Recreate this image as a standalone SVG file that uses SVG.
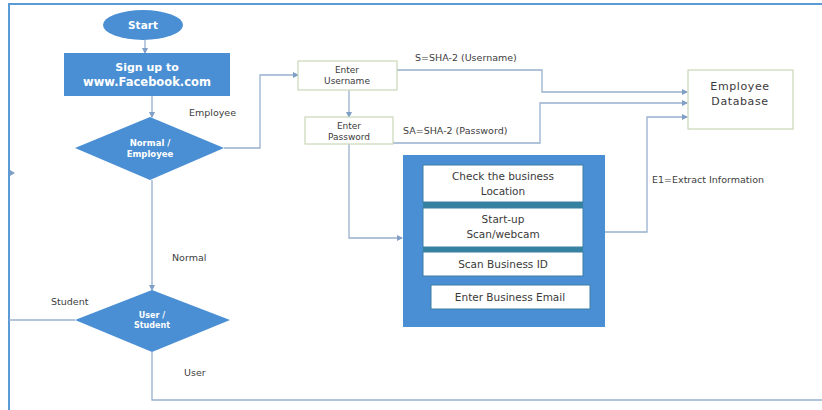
<svg xmlns="http://www.w3.org/2000/svg" width="822" height="410" viewBox="0 0 822 410">
<style>
.conn{fill:none;stroke:#98b0d0;stroke-width:1.3}
.lbl{font-family:"DejaVu Sans",sans-serif;font-size:9.5px;fill:#404040}
.wt{font-family:"DejaVu Sans",sans-serif;fill:#ffffff;font-weight:bold;text-anchor:middle}
.bt{font-family:"DejaVu Sans",sans-serif;fill:#3a3a3a;text-anchor:middle}
.shape{fill:#4a8fd3}
.obox{fill:#ffffff;stroke:#c9d6b8;stroke-width:1.2}
.ibox{fill:#ffffff;stroke:#3d7fa6;stroke-width:1}
.sep{fill:#34829f}
</style>
<defs>
<marker id="ah" markerWidth="6" markerHeight="6" refX="5" refY="3" orient="auto" markerUnits="userSpaceOnUse">
<path d="M0,0 L6,3 L0,6 z" fill="#7f9fc6"/>
</marker>
</defs>
<rect x="0" y="0" width="822" height="410" fill="#ffffff"/>
<g id="frame">
<polyline points="9,410 9,4 822,4" fill="none" stroke="#5b9bd5" stroke-width="2"/>
<path d="M10,170 L15,173 L10,176 z" fill="#7f9fc6"/>
</g>
<g id="connectors">
<path class="conn" d="M145,40 V53" marker-end="url(#ah)"/>
<path class="conn" d="M152,96 V117" marker-end="url(#ah)"/>
<path class="conn" d="M224,148 H260 V75 H298" marker-end="url(#ah)"/>
<path class="conn" d="M349,90 V117" marker-end="url(#ah)"/>
<path class="conn" d="M397,70 H542 V92 H687" marker-end="url(#ah)"/>
<path class="conn" d="M393,143 H540 V103 H687" marker-end="url(#ah)"/>
<path class="conn" d="M605,232 H647 V117 H687" marker-end="url(#ah)"/>
<path class="conn" d="M349,144 V238 H402" marker-end="url(#ah)"/>
<path class="conn" d="M152,180 V290" marker-end="url(#ah)"/>
<path class="conn" d="M75,320 H9"/>
<path class="conn" d="M152,352 V400 H822"/>
</g>
<g id="labels">
<text class="lbl" x="189" y="116">Employee</text>
<text class="lbl" x="172" y="261">Normal</text>
<text class="lbl" x="51" y="305">Student</text>
<text class="lbl" x="184" y="376">User</text>
<text class="lbl" x="415" y="61" font-size="10">S=SHA-2 (Username)</text>
<text class="lbl" x="403" y="134" font-size="10">SA=SHA-2 (Password)</text>
<text class="lbl" x="652" y="183" font-size="10">E1=Extract Information</text>
</g>
<g id="start">
<ellipse class="shape" cx="143" cy="25" rx="40" ry="15"/>
<text class="wt" x="143" y="29" font-size="10.5">Start</text>
</g>
<g id="signup">
<rect class="shape" x="64" y="53" width="166" height="43"/>
<text class="wt" x="147" y="71" font-size="11">Sign up to</text>
<text class="wt" x="147" y="86" font-size="11.5">www.Facebook.com</text>
</g>
<g id="normal-employee">
<polygon class="shape" points="150,117 224,148 150,180 75,148"/>
<text class="wt" x="150" y="146" font-size="8.5">Normal /</text>
<text class="wt" x="150" y="157" font-size="8.5">Employee</text>
</g>
<g id="user-student">
<polygon class="shape" points="152,290 230,320 152,352 75,320"/>
<text class="wt" x="152" y="318" font-size="8">User /</text>
<text class="wt" x="152" y="328" font-size="8">Student</text>
</g>
<g id="enter-username">
<rect class="obox" x="298" y="61" width="99" height="29"/>
<text class="bt" x="347" y="73" font-size="9">Enter</text>
<text class="bt" x="347" y="84" font-size="9">Username</text>
</g>
<g id="enter-password">
<rect class="obox" x="305" y="117" width="88" height="27"/>
<text class="bt" x="349" y="129" font-size="9">Enter</text>
<text class="bt" x="349" y="140" font-size="9">Password</text>
</g>
<g id="employee-database">
<rect class="obox" x="688" y="70" width="105" height="59"/>
<text class="bt" x="740" y="90" font-size="11" letter-spacing="0.6">Employee</text>
<text class="bt" x="740" y="105" font-size="11" letter-spacing="0.6">Database</text>
</g>
<g id="business-panel">
<rect class="shape" x="403" y="155" width="202" height="172"/>
<rect class="sep" x="423" y="201" width="160" height="8"/>
<rect class="sep" x="423" y="246" width="160" height="7"/>
<rect class="ibox" x="423" y="165" width="160" height="37"/>
<text class="bt" x="503" y="180" font-size="10.5">Check the business</text>
<text class="bt" x="503" y="195" font-size="10.5">Location</text>
<rect class="ibox" x="423" y="208" width="160" height="39"/>
<text class="bt" x="503" y="223" font-size="10.5">Start-up</text>
<text class="bt" x="503" y="238" font-size="10.5">Scan/webcam</text>
<rect class="ibox" x="423" y="252" width="160" height="24"/>
<text class="bt" x="503" y="268" font-size="10.5">Scan Business ID</text>
<rect class="ibox" x="431" y="285" width="159" height="24" stroke="#ffffff"/>
<text class="bt" x="510" y="301" font-size="10.5">Enter Business Email</text>
</g>
</svg>
